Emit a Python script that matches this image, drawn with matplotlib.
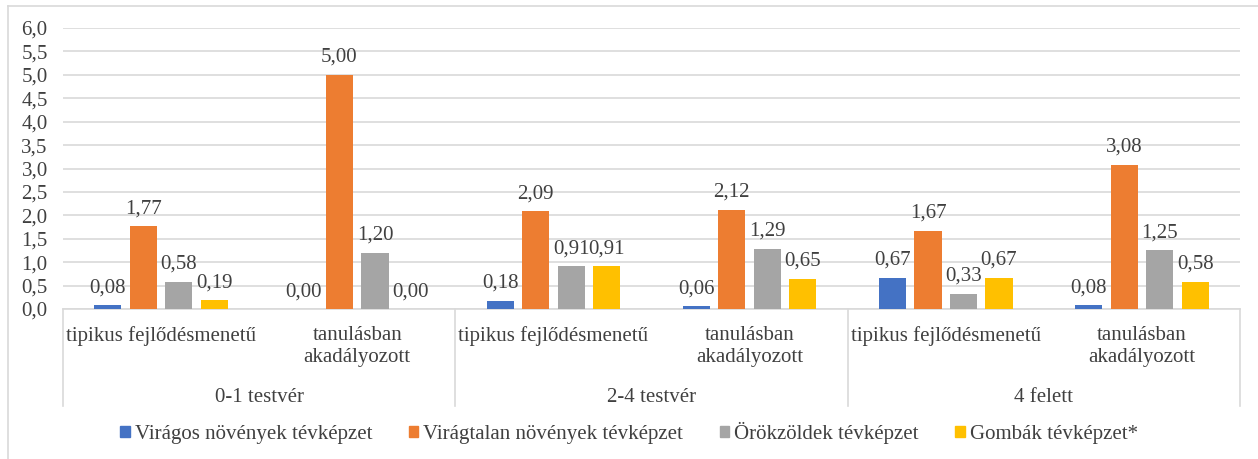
#grouped bar chart - tévképzetek testvérszám és fejlődésmenet szerint
import numpy as np
import matplotlib.pyplot as plt
from matplotlib.lines import Line2D

#data
groups = ["0-1 testvér", "2-4 testvér", "4 felett"]
subcats = ["tipikus fejlődésmenetű", "tanulásban\nakadályozott"]
series_names = ["Virágos növények tévképzet", "Virágtalan növények tévképzet",
                "Örökzöldek tévképzet", "Gombák tévképzet*"]
viragos = [0.08, 0.00, 0.18, 0.06, 0.67, 0.08]
viragtalan = [1.77, 5.00, 2.09, 2.12, 1.67, 3.08]
orokzold = [0.58, 1.20, 0.91, 1.29, 0.33, 1.25]
gomba = [0.19, 0.00, 0.91, 0.65, 0.67, 0.58]
colors = ["#4472C4", "#ED7D31", "#A5A5A5", "#FFC000"]

plt.rcParams["font.family"] = ["Liberation Serif", "DejaVu Serif"]
fs = 15
txt_col = "#404040"

W, H = 1258, 459
fig = plt.figure(figsize=(W / 100, H / 100), dpi=100)
ax = fig.add_axes([63 / W, 1 - 309 / H, (1240 - 63) / W, (309 - 28) / H])

n_cat = len(groups) * len(subcats)
x = np.arange(n_cat)
step = 0.181
width = 0.138
grid_col = "#D9D9D9"

for i, (vals, col) in enumerate(zip([viragos, viragtalan, orokzold, gomba], colors)):
    pos = x + (i - 1.5) * step
    ax.bar(pos, vals, width=width, color=col, zorder=3)
    for px, v in zip(pos, vals):
        ax.annotate(f"{v:.2f}".replace(".", ","), (px, v), xytext=(0, 12.5),
                    textcoords="offset points", ha="center", va="center",
                    fontsize=fs, color=txt_col)

ax.set_xlim(-0.5, n_cat - 0.5)
ax.set_ylim(0, 6)
ax.set_yticks(np.arange(0, 6.01, 0.5))
ax.set_yticklabels([f"{t:.1f}".replace(".", ",") for t in np.arange(0, 6.01, 0.5)],
                   fontsize=fs, color=txt_col)
ax.tick_params(axis="y", length=0, pad=11)
ax.tick_params(axis="x", length=0, labelbottom=False)
ax.yaxis.grid(True, color=grid_col, linewidth=1.2, zorder=0)
ax.set_axisbelow(True)
for s in ["top", "right", "left"]:
    ax.spines[s].set_visible(False)
ax.spines["bottom"].set_color(grid_col)
ax.spines["bottom"].set_linewidth(1.2)

#multi-level category axis
trans = ax.get_xaxis_transform()
y_sub = -17 / 281
y_grp = -89 / 281
y_sep = -97 / 281
for gi, g in enumerate(groups):
    for si, sc in enumerate(subcats):
        ci = gi * len(subcats) + si
        ax.text(ci, y_sub, sc, transform=trans, ha="center", va="top",
                fontsize=fs, color=txt_col, linespacing=1.22)
    ax.text(gi * 2 + 0.5, y_grp, g, transform=trans, ha="center", va="center",
            fontsize=fs, color=txt_col)
for b in range(len(groups) + 1):
    ax.add_line(Line2D([b * 2 - 0.5, b * 2 - 0.5], [0, y_sep], transform=trans,
                       color=grid_col, linewidth=1.2, clip_on=False))

#legend
handles = [plt.Rectangle((0, 0), 1, 1, color=c) for c in colors]
fig.legend(handles, series_names, loc="center", bbox_to_anchor=(0.5, 1 - 433 / H),
           ncol=4, frameon=False, fontsize=fs, handlelength=0.45, handleheight=0.45,
           handletextpad=0.25, columnspacing=1.75, labelcolor=txt_col)

#chart frame (top and left edges visible)
fig.add_artist(Line2D([8 / W, 1], [1 - 6 / H, 1 - 6 / H], transform=fig.transFigure,
                      color=grid_col, linewidth=1.2))
fig.add_artist(Line2D([8 / W, 8 / W], [0, 1 - 6 / H], transform=fig.transFigure,
                      color=grid_col, linewidth=1.2))

fig.savefig("out.png", dpi=100)
